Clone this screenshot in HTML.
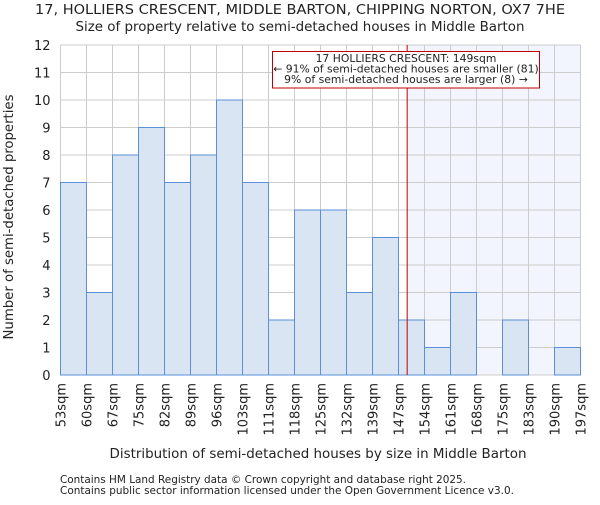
<!DOCTYPE html>
<html><head><meta charset="utf-8"><style>
body{margin:0;background:#fff;}
svg text{font-family:"DejaVu Sans","Liberation Sans",sans-serif;fill:#222;}
</style></head><body>
<svg id="chart" width="600" height="500" xmlns="http://www.w3.org/2000/svg">
<text x="300" y="14" font-size="13" text-anchor="middle" textLength="530" lengthAdjust="spacingAndGlyphs">17, HOLLIERS CRESCENT, MIDDLE BARTON, CHIPPING NORTON, OX7 7HE</text>
<text x="300" y="31" font-size="13" text-anchor="middle" textLength="449" lengthAdjust="spacingAndGlyphs">Size of property relative to semi-detached houses in Middle Barton</text>
<g id="plot"></g>
<text x="318" y="458" font-size="13" text-anchor="middle" textLength="417" lengthAdjust="spacingAndGlyphs">Distribution of semi-detached houses by size in Middle Barton</text>
<text transform="translate(13,217) rotate(-90)" font-size="13" text-anchor="middle" textLength="245" lengthAdjust="spacingAndGlyphs">Number of semi-detached properties</text>
<text x="60" y="483" font-size="10.5" textLength="406" lengthAdjust="spacingAndGlyphs">Contains HM Land Registry data © Crown copyright and database right 2025.</text>
<text x="60" y="494" font-size="10.5" textLength="454" lengthAdjust="spacingAndGlyphs">Contains public sector information licensed under the Open Government Licence v3.0.</text>
</svg>
<script>
const binLabels=["53sqm","60sqm","67sqm","75sqm","82sqm","89sqm","96sqm","103sqm","111sqm","118sqm","125sqm","132sqm","139sqm","147sqm","154sqm","161sqm","168sqm","175sqm","183sqm","190sqm","197sqm"];
const binEdges=[53,60,67,75,82,89,96,103,111,118,125,132,139,147,154,161,168,175,183,190,197];
const counts=[7,3,8,9,7,8,10,7,2,6,6,3,5,2,1,3,0,2,0,1];
const yTicks=[0,1,2,3,4,5,6,7,8,9,10,11,12];
const propertySize=149;
const NS="http://www.w3.org/2000/svg";
const g=document.getElementById('plot');
const X0=60.5,X1=580.5,Y0=375,Y1=45,yMax=12;
const n=counts.length,bw=(X1-X0)/n;
function xb(i){return X0+i*bw;}
function y(v){return Y0-(v/yMax)*(Y0-Y1);}
function xv(v){return X0+(v-binEdges[0])/(binEdges[binEdges.length-1]-binEdges[0])*(X1-X0);}
function mk(t,a){const e=document.createElementNS(NS,t);for(const k in a)e.setAttribute(k,a[k]);g.appendChild(e);return e;}
const px=xv(propertySize);
let e=mk('rect',{x:px,y:Y1,width:X1-px,height:Y0-Y1,fill:'#f2f5fd'});


yTicks.forEach(t=>{
 let l=mk('line',{x1:X0,x2:X1,y1:y(t),y2:y(t),stroke:'#cccccc','stroke-width':1});
 
 
 let tx=mk('text',{x:X0-10,y:y(t)+5,'font-size':13,'text-anchor':'end'});tx.textContent=t;
 
 
});
for(let i=0;i<=n;i++){
 let l=mk('line',{x1:xb(i),x2:xb(i),y1:Y1,y2:Y0,stroke:'#cccccc','stroke-width':1});
 
 
}
counts.forEach((c,i)=>{
 if(c<=0)return;
 let r=mk('rect',{x:xb(i),y:y(c),width:bw,height:Y0-y(c),fill:'#dae5f4',stroke:'#5b8fd9','stroke-width':1});
 
 
});
binLabels.forEach((lb,i)=>{
 const x=xb(i);
 let t=mk('text',{transform:`translate(${x+5},${383}) rotate(-90)`,'font-size':13,'text-anchor':'end'});t.textContent=lb;
 
 
});
let rl=mk('line',{x1:px,x2:px,y1:Y1,y2:Y0,stroke:'#c00000','stroke-width':1});


let box=mk('rect',{x:272.5,y:51.5,width:267,height:36.5,fill:'#fff',stroke:'#c00000','stroke-width':1});


["17 HOLLIERS CRESCENT: 149sqm","← 91% of semi-detached houses are smaller (81)","9% of semi-detached houses are larger (8) →"].forEach((s,i)=>{
 let t=mk('text',{x:406,y:62+i*10.5,'font-size':10.8,'text-anchor':'middle'});t.textContent=s;
 
 
});
</script>
</body></html>
